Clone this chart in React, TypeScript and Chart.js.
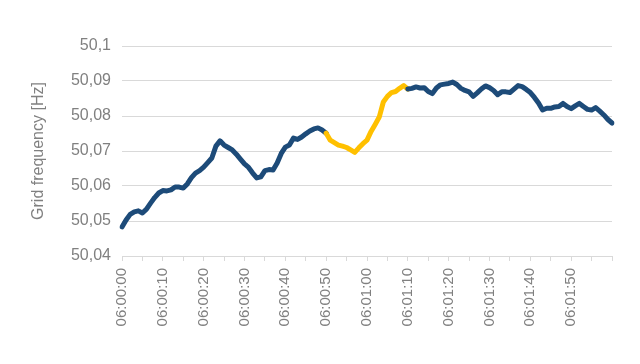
import React, { useEffect, useRef } from "react";
import { Chart, registerables } from "chart.js";

Chart.register(...registerables);

// Time stamps, one per second from 06:00:00 to 06:02:00
const startHour = 6;
const timeLabels: string[] = Array.from({ length: 121 }, (_, i) => {
  const m = Math.floor(i / 60);
  const s = i % 60;
  const p = (n: number) => String(n).padStart(2, "0");
  return `${p(startHour)}:${p(m)}:${p(s)}`;
});

// Grid frequency [Hz], one reading per second
const frequency: number[] = [
  50.0483, 50.0503, 50.0519, 50.0526, 50.0529, 50.0523, 50.0534, 50.0551, 50.0567, 50.058,
  50.0587, 50.0586, 50.0589, 50.0597, 50.0597, 50.0594, 50.0606, 50.0624, 50.0637, 50.0644,
  50.0654, 50.0667, 50.068, 50.0714, 50.0729, 50.0717, 50.071, 50.0703, 50.0691, 50.0677,
  50.0663, 50.0653, 50.0637, 50.0623, 50.0626, 50.0644, 50.0647, 50.0646, 50.0666, 50.0693,
  50.0711, 50.0717, 50.0737, 50.0733, 50.074, 50.0749, 50.0757, 50.0763, 50.0766, 50.076,
  50.0751, 50.0731, 50.0724, 50.0717, 50.0714, 50.071, 50.0703, 50.0696, 50.0709, 50.0721,
  50.0731, 50.0756, 50.0776, 50.0797, 50.084, 50.0856, 50.0867, 50.087, 50.0879, 50.0887,
  50.0877, 50.0879, 50.0883, 50.088, 50.0881, 50.087, 50.0864, 50.088, 50.0889, 50.0891,
  50.0893, 50.0897, 50.089, 50.0879, 50.0873, 50.0869, 50.0856, 50.0866, 50.0877, 50.0886,
  50.0881, 50.0873, 50.0861, 50.0869, 50.0869, 50.0867, 50.0877, 50.0887, 50.0884, 50.0876,
  50.0867, 50.0853, 50.0837, 50.0817, 50.0822, 50.0822, 50.0826, 50.0827, 50.0836, 50.0827,
  50.0821, 50.0829, 50.0836, 50.0827, 50.0819, 50.0817, 50.0824, 50.0814, 50.0803, 50.079,
  50.078,
];

// Highlighted interval (indices into the series)
const highlightStart = 50;
const highlightEnd = 70;

const yTicks: number[] = [50.04, 50.05, 50.06, 50.07, 50.08, 50.09, 50.1];

const BLUE = "#1d4b79";
const YELLOW = "#ffc000";
const GRID = "#d9d9d9";
const TEXT = "#808080";
const FONT = "'Liberation Sans', Arial, sans-serif";

export default function App() {
  const ref = useRef<HTMLCanvasElement | null>(null);

  useEffect(() => {
    if (!ref.current) return;
    const chart = new Chart(ref.current, {
      type: "line",
      data: {
        labels: timeLabels,
        datasets: [
          {
            data: frequency,
            borderColor: BLUE,
            borderWidth: 5,
            pointRadius: 0,
            tension: 0,
            fill: false,
            borderJoinStyle: "round",
            borderCapStyle: "round",
            segment: {
              borderColor: (ctx: any) =>
                ctx.p0DataIndex >= highlightStart && ctx.p1DataIndex <= highlightEnd ? YELLOW : BLUE,
            },
          },
        ],
      },
      options: {
        responsive: false,
        animation: false,
        layout: { padding: { left: 20, top: 46, right: 28, bottom: 0 } },
        plugins: { legend: { display: false }, tooltip: { enabled: false } },
        scales: {
          x: {
            type: "category",
            offset: false,
            grid: {
              drawOnChartArea: false,
              drawTicks: true,
              tickLength: 5,
              color: (ctx: any) => (ctx.index % 5 === 0 ? GRID : "rgba(0,0,0,0)"),
            },
            border: { display: true, color: GRID },
            ticks: {
              autoSkip: false,
              minRotation: 90,
              maxRotation: 90,
              padding: 7,
              color: TEXT,
              font: { family: FONT, size: 15 },
              callback: (_v: any, i: number) => (i % 10 === 0 && i < 120 ? timeLabels[i] : ""),
            },
            afterFit: (scale: any) => {
              scale.height = 108;
            },
          },
          y: {
            min: yTicks[0],
            max: yTicks[yTicks.length - 1],
            afterBuildTicks: (scale: any) => {
              scale.ticks = yTicks.map((v) => ({ value: v }));
            },
            grid: { color: GRID, drawTicks: false, lineWidth: 1 },
            border: { display: false },
            ticks: {
              padding: 11,
              color: TEXT,
              font: { family: FONT, size: 16 },
              callback: (v: any) => String(Math.round(Number(v) * 100) / 100).replace(".", ","),
            },
            title: {
              display: true,
              text: "Grid frequency [Hz]",
              color: TEXT,
              font: { family: FONT, size: 16 },
              padding: { top: 9, bottom: 0 },
            },
            afterFit: (scale: any) => {
              scale.width = 102;
            },
          },
        },
      },
    });
    return () => chart.destroy();
  }, []);

  return (
    <div style={{ position: "absolute", left: 0, top: 0, width: 640, height: 364, background: "#fff" }}>
      <canvas ref={ref} width={640} height={364} style={{ display: "block" }} />
    </div>
  );
}
